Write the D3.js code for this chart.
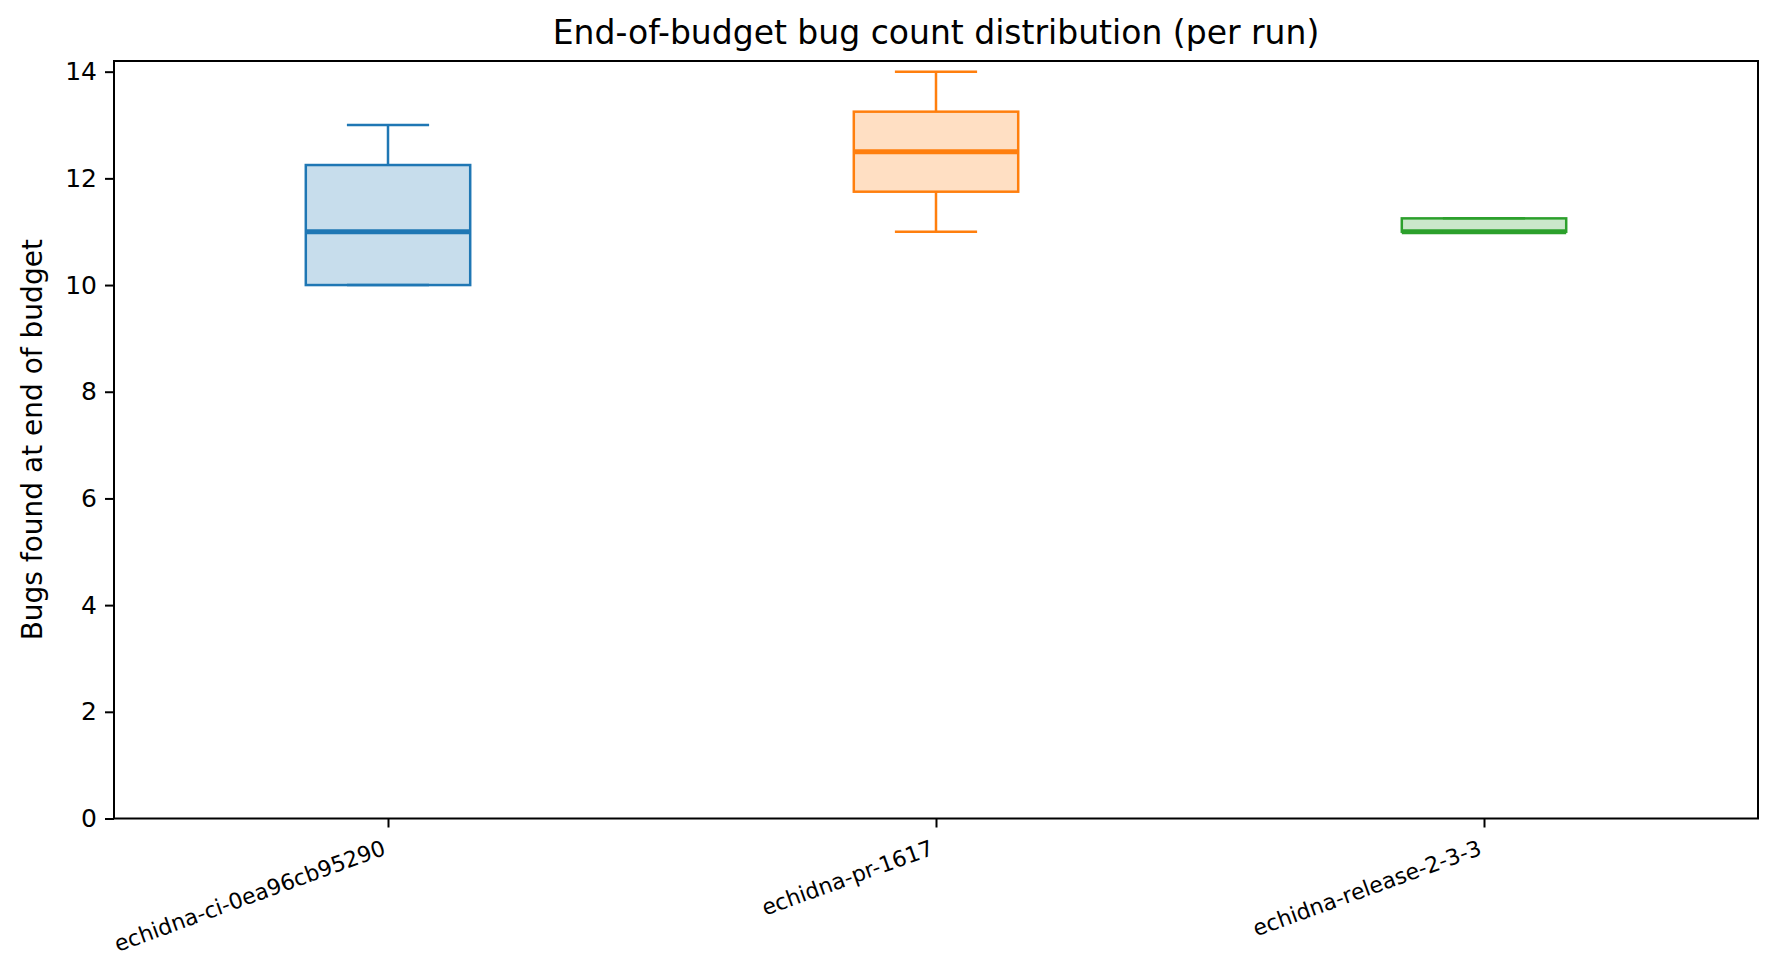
<!DOCTYPE html>
<html lang="en">
<head>
  <meta charset="UTF-8">
  <title>Bug count boxplot</title>
  <style>
    body { margin: 0; background: #fff; }
    text { font-family: "DejaVu Sans", sans-serif; fill: #000; }
  </style>
</head>
<body>
  <div id="viz"></div>
  <script src="https://d3js.org/d3.v7.min.js"></script>
  <script>
    // values
    const categories = ["echidna-ci-0ea96cb95290", "echidna-pr-1617", "echidna-release-2-3-3"]
    const whiskerLow = [10, 11, 11]
    const q1 = [10, 11.75, 11]
    const median = [11, 12.5, 11]
    const q3 = [12.25, 13.25, 11.25]
    const whiskerHigh = [13, 14, 11.25]
    const yTicks = [0, 2, 4, 6, 8, 10, 12, 14]
    const colors = ["#1f77b4", "#ff7f0e", "#2ca02c"]

    const W = 1779, H = 977
    const margin = {top: 61, right: 21, bottom: 158.5, left: 114}
    const width = W - margin.left - margin.right
    const height = H - margin.top - margin.bottom

    const svg = d3.select("#viz").append("svg")
      .attr("width", W).attr("height", H)
    const g = svg.append("g")
      .attr("transform", "translate(" + margin.left + "," + margin.top + ")")

    // positions 1..n like matplotlib, xlim 0.5..n+0.5
    const x = d3.scaleLinear().domain([0.5, categories.length + 0.5]).range([0, width])
    const y = d3.scaleLinear().domain([0, 14.2]).range([height, 0])
    const boxW = x(1.15) - x(0.85)
    const capW = x(1.075) - x(0.925)

    const rows = categories.map(function(c, i) {
      return {name: c, lo: whiskerLow[i], q1: q1[i], med: median[i], q3: q3[i], hi: whiskerHigh[i], color: colors[i], pos: i + 1}
    })

    const box = g.selectAll("g.box").data(rows).enter().append("g").attr("class", "box")

    box.append("rect")
      .attr("x", function(d) { return x(d.pos) - boxW / 2 })
      .attr("y", function(d) { return y(d.q3) })
      .attr("width", boxW)
      .attr("height", function(d) { return y(d.q1) - y(d.q3) })
      .attr("fill", function(d) { return d3.color(d.color).copy({opacity: 0.25}) })
      .attr("stroke", function(d) { return d.color })
      .attr("stroke-width", 2.5)

    box.append("line")
      .attr("x1", function(d) { return x(d.pos) - boxW / 2 })
      .attr("x2", function(d) { return x(d.pos) + boxW / 2 })
      .attr("y1", function(d) { return y(d.med) })
      .attr("y2", function(d) { return y(d.med) })
      .attr("stroke", function(d) { return d.color })
      .attr("stroke-width", 5)

    // whiskers
    box.append("line")
      .attr("x1", function(d) { return x(d.pos) })
      .attr("x2", function(d) { return x(d.pos) })
      .attr("y1", function(d) { return y(d.q1) })
      .attr("y2", function(d) { return y(d.lo) })
      .attr("stroke", function(d) { return d.color })
      .attr("stroke-width", 2.5)
    box.append("line")
      .attr("x1", function(d) { return x(d.pos) })
      .attr("x2", function(d) { return x(d.pos) })
      .attr("y1", function(d) { return y(d.q3) })
      .attr("y2", function(d) { return y(d.hi) })
      .attr("stroke", function(d) { return d.color })
      .attr("stroke-width", 2.5)

    // caps
    ;["lo", "hi"].forEach(function(k) {
      box.append("line")
        .attr("x1", function(d) { return x(d.pos) - capW / 2 })
        .attr("x2", function(d) { return x(d.pos) + capW / 2 })
        .attr("y1", function(d) { return y(d[k]) })
        .attr("y2", function(d) { return y(d[k]) })
        .attr("stroke", function(d) { return d.color })
        .attr("stroke-width", 2.5)
    })

    // y axis
    const yAxis = g.append("g")
      .call(d3.axisLeft(y).tickValues(yTicks).tickSize(9).tickPadding(8).tickFormat(d3.format("d")))
    yAxis.select(".domain").remove()
    yAxis.selectAll(".tick line").attr("stroke", "#000").attr("stroke-width", 2)
    yAxis.selectAll(".tick text").attr("font-size", 25).attr("font-family", "DejaVu Sans")

    // x axis
    const xAxis = g.append("g")
      .attr("transform", "translate(0," + height + ")")
      .call(d3.axisBottom(x).tickValues(rows.map(function(d) { return d.pos }))
        .tickSize(9).tickFormat(function(d) { return categories[d - 1] }))
    xAxis.select(".domain").remove()
    xAxis.selectAll(".tick line").attr("stroke", "#000").attr("stroke-width", 2)
    xAxis.selectAll(".tick text")
      .attr("font-size", 22)
      .attr("font-family", "DejaVu Sans")
      .attr("text-anchor", "end")
      .attr("x", -1.8)
      .attr("y", 0)
      .attr("dy", 0)
      .attr("transform", "translate(0,35) rotate(-20)")

    // frame
    g.append("rect")
      .attr("width", width).attr("height", height)
      .attr("fill", "none").attr("stroke", "#000").attr("stroke-width", 2)

    svg.append("text")
      .attr("x", margin.left + width / 2).attr("y", 44)
      .attr("text-anchor", "middle").attr("font-size", 33)
      .text("End-of-budget bug count distribution (per run)")

    svg.append("text")
      .attr("transform", "translate(42," + (margin.top + height / 2) + ") rotate(-90)")
      .attr("text-anchor", "middle").attr("font-size", 28)
      .text("Bugs found at end of budget")
  </script>
</body>
</html>
